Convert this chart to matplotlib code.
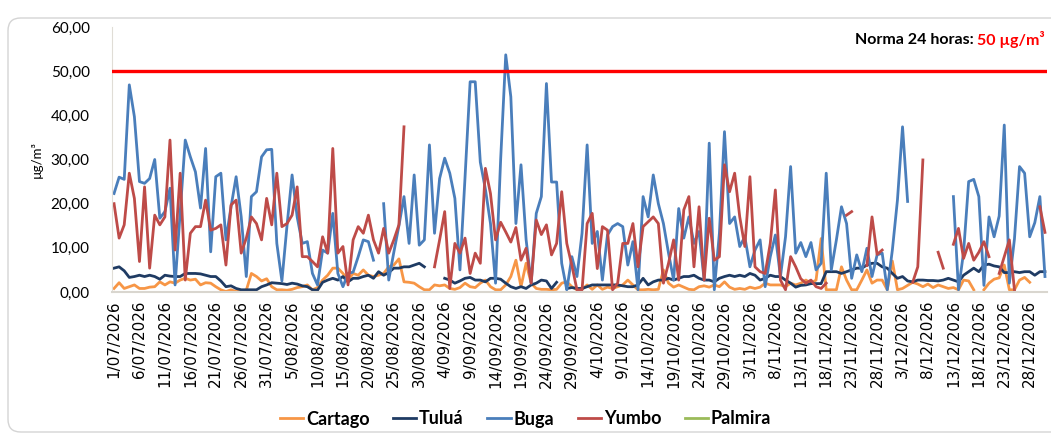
import numpy as np
import pandas as pd
import matplotlib
matplotlib.use("Agg")
import matplotlib.pyplot as plt
from matplotlib.patches import FancyBboxPatch

nan = np.nan

#### data: daily SO2 concentrations (ug/m3), 1/07/2026 - 31/12/2026
dates = pd.date_range("2026-07-01", "2026-12-31", freq="D")

buga = [
    22.3, 26, 25.5, 46.9, 39.7, 25, 24.6, 25.7, 30, 16.7,
    18.2, 23.5, 1.6, 18, 34.4, 30.6, 27.2, 19, 32.5, 9.1,
    26.1, 26.9, 11.8, 19.3, 26.1, 17, 3.5, 21.6, 22.7, 30.6,
    32.2, 32.3, 11, 2.5, 15, 26.5, 17, 11, 11.4, 4.2,
    1.6, 9.5, 8.8, 17.8, 4.2, 1.2, 4.2, 4.5, 8, 11.8,
    11.4, 7.2, nan, 20, 2.7, 9, 15, 21.6, 11, 26.5,
    10.6, 11.8, 33.3, 13.3, 25.7, 30.3, 26.9, 21.2, 5, 26,
    47.6, 47.6, 29.4, 23.3, 15.5, 2, 30, 53.7, 44.2, 15.5,
    28.8, 11.9, 2, 17.8, 21.6, 47.2, 24.9, 24.9, 6.5, 0.5,
    8, 3.5, 13.3, 33.3, 11, 13.7, 2.7, 12.9, 14.8, 15.5,
    14.8, 6.1, 11.4, 0.5, 21.6, 17, 26.5, 20, 15.5, 8.8,
    2.7, 18.9, 12.2, 17, 11, 13.7, 2.7, 33.7, 0.5, 13.3,
    36.3, 15.5, 17, 10.3, 12.5, 5.7, 9.5, 11.8, 1.2, 8,
    12.9, 3.5, 12.5, 28.4, 8.8, 11.2, 8, 11.2, 5, 6.5,
    26.9, 5, 11.8, 19.3, 15.5, 3.1, 8.4, 4.6, 9.9, 3.5,
    8.4, 8.8, 0.5, 9.5, 20.8, 37.4, 20.5, nan, nan, nan,
    nan, nan, nan, nan, nan, 21.6, 0.5, 9, 25, 25.5,
    21.6, 1.5, 17, 12.5, 17.2, 37.8, 2, 12, 28.4, 26.9,
    12.5, 15.7, 21.6, 3.5,
]

yumbo = [
    20, 12.2, 15.2, 26.9, 21.2, 6.9, 23.8, 5.4, 17.4, 15.2,
    17, 34.4, 9.5, 26.9, 2.7, 13.3, 14.8, 14.8, 20.8, 14,
    14.4, 15.2, 6.1, 19.7, 20.8, 8.8, 12.2, 17, 15.5, 11.8,
    21.2, 15.2, 26.9, 14.8, 15.5, 17.4, 23.8, 8, 8, 6.9,
    5.7, 12.5, 8.8, 32.5, 8.8, 10.3, 1.6, 11.8, 14.8, 13.3,
    17.4, 11.8, 8.8, 14.4, 8.8, 11.8, 15.2, 37.4, nan, nan,
    nan, nan, nan, 5.7, 11.8, 18.2, 0.8, 11, 8.8, 12.2,
    4.2, 8.8, 6.5, 28, 22.3, 11.8, 15.8, 13.6, 11.3, 14.6,
    7.2, 9.9, 2, 16.3, 13, 15.2, 8.4, 11, 22.7, 11,
    6, 0.5, 0.5, 15.5, 17.8, 5.3, 14.8, 14, 0.5, 2,
    11, 11, 15.5, 5.7, 14.8, 15.9, 17, 15.5, 2, 6.5,
    11.8, 2.7, 18.6, 21.6, 5.7, 19.3, 2.7, 16.7, 7.2, 8,
    28.8, 22.7, 26.9, 17, 10.3, 26.1, 5.7, 4.6, 4.2, 11,
    23.1, 2.7, 0.5, 8, 5.7, 3, 2, 2.7, 1.2, 0.8,
    2, nan, nan, nan, 17.4, 18.2, nan, nan, 6, 17,
    8.5, 9.5, nan, nan, nan, nan, nan, 2.2, 5.7, 29.9,
    nan, nan, 9, 5.4, nan, 10.8, 14.4, 7.6, 11, 7.2,
    9, 11.4, 8, nan, 4.2, 8, 11.8, 0.5, nan, nan,
    nan, nan, 19.3, 13.5,
]

tulua = [
    5.4, 5.7, 4.8, 3.3, 3.5, 3.8, 3.5, 3.8, 3.5, 2.9,
    3.8, 3.6, 3.5, 3.5, 4.2, 4.2, 4.2, 4.1, 3.8, 3.5,
    3.5, 2.5, 1.2, 1.4, 0.8, 0.5, 0.5, 0.5, 0.5, 1.2,
    1.6, 2.1, 2, 1.9, 1.7, 2, 1.8, 1.4, 1.2, 0.5,
    0.4, 2.2, 2.7, 3.1, 2.7, 3.5, 2.3, 3.1, 3.1, 3.5,
    3.8, 3.1, 4.6, 3.8, 4.4, 5.4, 5.4, 5.7, 5.7, 6.1,
    6.5, 5.7, nan, nan, nan, 3.1, 2.7, 2, 2.5, 3.1,
    3.3, 2.7, 2.7, 2.3, 3.1, 3.1, 2.9, 2, 1.2, 0.8,
    1.2, 0.8, 1.6, 2, 2.7, 2.5, 0.8, 2.2, nan, 0.8,
    1, 0.8, 0.8, 1.2, 1.6, 1.6, 1.6, 1.6, 1.6, 1.6,
    1.4, 1.2, 1.2, 1.6, 3.1, 1.6, 2.3, 2.7, 2.7, 3.1,
    2.7, 3.1, 3.5, 3.5, 3.8, 3.1, 2.7, 2.7, 2.3, 3.1,
    3.5, 3.8, 3.5, 3.8, 3.5, 4.2, 3.8, 2.7, 3.1, 3.8,
    3.5, 3.5, 2.7, 2, 1.1, 1.5, 1.6, 1.9, 1.9, 1.9,
    4.6, 4.6, 4.6, 4.2, 4.6, 5, 5.4, 5.4, 6.1, 6.5,
    6.5, 5.7, 5.4, 4.2, 3.1, 3.5, 2.5, 2.3, 2.7, 2.7,
    2.6, 2.6, 2.5, 2.7, 3.1, 2.7, 2.3, 3.8, 4.6, 5.4,
    4.6, 6.1, 6.3, 5.9, 5.7, 4.4, 4.4, 4.6, 4.4, 4.6,
    4.6, 3.8, 4.6, 4.6,
]

cartago = [
    0.8, 2.1, 0.8, 1.2, 1.6, 0.8, 0.8, 1.1, 1.2, 2.3,
    1.6, 2.3, 2, 2.7, 3.1, 2.7, 2.9, 1.6, 2.1, 2,
    1.2, 0.5, 0.1, 0.5, 0.1, 0.3, 0.4, 4.2, 3.5, 2.5,
    3, 1.2, 0.5, 0.5, 0.4, 0.6, 1, 1.2, 1.6, 0.5,
    1, 2.7, 3.8, 5.4, 5.4, 4.2, 2.7, 4.2, 3.8, 5,
    3.8, 3.5, 3.8, 4.2, 5.7, 6.1, 7.5, 2.3, 2.2, 2,
    1.2, 0.5, 0.5, 1.6, 1.4, 1.6, 0.8, 0.6, 1, 2,
    1.2, 1, 2, 2.7, 1.2, 0.5, 0.5, 1.6, 3.5, 7.2,
    1.2, 6.5, 2, 0.8, 0.6, 0.6, 0.5, 0.6, 2, 2.3,
    1.2, 0.5, 0.6, 1.6, 0.6, 1.6, 0.6, 1.1, 0.8, 1.2,
    1.6, 2.7, 1.6, 0.5, 0.5, 0.6, 0.5, 0.6, 5, 2,
    1.1, 1.6, 1.1, 0.6, 0.5, 1.2, 1.4, 1.1, 1.6, 1.2,
    2.3, 1.1, 0.6, 0.8, 0.6, 1.1, 0.8, 1.1, 2, 1.6,
    1.6, 1.6, 1.2, 2, 1.6, 2, 2.7, 2, 2.7, 12.1,
    0.5, 0.5, 0.5, 5.7, 2.7, 0.5, 0.5, 2.7, 5, 2,
    2.7, 2.7, 0.5, 7, 0.5, 0.8, 1.5, 2.2, 1.8, 1.2,
    1.8, 1, 1.6, 1.2, 0.8, 1, 0.5, 2.7, 2.5, 0.5,
    nan, 0.5, 2, 2.9, 3.2, 6.1, 0.5, 0.5, 2.7, 3.3,
    2.2, nan, nan, nan,
]

palmira = []  # no data reported for Palmira

norma = 50

yticks = [0, 10, 20, 30, 40, 50, 60]

#### figure
W, H = 1051, 438
fig = plt.figure(figsize=(W / 100, H / 100), dpi=100)
ax = fig.add_axes([112 / W, 1 - 292 / H, (1047 - 112) / W, 265 / H])

x = np.arange(len(dates))

ax.plot(x, cartago, color="#F79646", lw=2.0, label="Cartago", solid_joinstyle="round")
ax.plot(x, tulua, color="#1F3B63", lw=2.0, label="Tuluá", solid_joinstyle="round")
ax.plot(x, buga, color="#4A7EBB", lw=2.0, label="Buga", solid_joinstyle="round")
ax.plot(x, yumbo, color="#BE4B48", lw=2.0, label="Yumbo", solid_joinstyle="round")
ax.plot(palmira, palmira, color="#9BBB59", lw=2.0, label="Palmira")
ax.axhline(norma, color="#FF0000", lw=2.4, zorder=5)

ax.set_xlim(-0.4, len(dates) - 0.6)
ax.set_ylim(0, 60)
ax.set_yticks(yticks)
ax.set_yticklabels([f"{v:.2f}".replace(".", ",") for v in yticks],
                   fontsize=11, family="Lato")

tick_pos = x[::5]
tick_lab = [f"{d.day}/{d.month:02d}/{d.year}" for d in dates[::5]]
ax.set_xticks(tick_pos)
ax.set_xticklabels(tick_lab, rotation=90, fontsize=10.9, family="DejaVu Sans")
ax.tick_params(axis="both", length=0, pad=6)
ax.tick_params(axis="y", pad=16)

for s in ["top", "right"]:
    ax.spines[s].set_visible(False)
ax.spines["left"].set_color("#e0ddd6")
ax.spines["bottom"].set_color("#d9d6cf")
ax.spines["bottom"].set_linewidth(1.5)

ax.set_ylabel("µg/m³", fontsize=9.5, family="Lato", labelpad=6)

# norma label
red_t = fig.text(1045 / W, 1 - 40 / H, "50 µg/m³", color="#FF0000",
                 fontweight="bold", family="Lato", fontsize=11.5,
                 ha="right", va="center")
ax.annotate("Norma 24 horas: ", xy=(0, 0.5), xycoords=red_t, ha="right",
            va="center", fontweight="bold", family="Lato", fontsize=11.5)

fig.legend(loc="center", bbox_to_anchor=(0.5, 1 - 419 / H), ncol=5,
           frameon=False, handlelength=1.3, handletextpad=0.15,
           columnspacing=1.3, prop={"family": "Lato", "weight": "bold", "size": 13})

# outer frame
frame = FancyBboxPatch((8 / W, 6 / H), (1080 - 8) / W, (420 - 6) / H,
                       boxstyle="round,pad=0,rounding_size=0.012",
                       mutation_aspect=W / H, transform=fig.transFigure,
                       fc="none", ec="#d4d4d4", lw=1.0)
fig.patches.append(frame)

fig.savefig("out.png", dpi=100)
